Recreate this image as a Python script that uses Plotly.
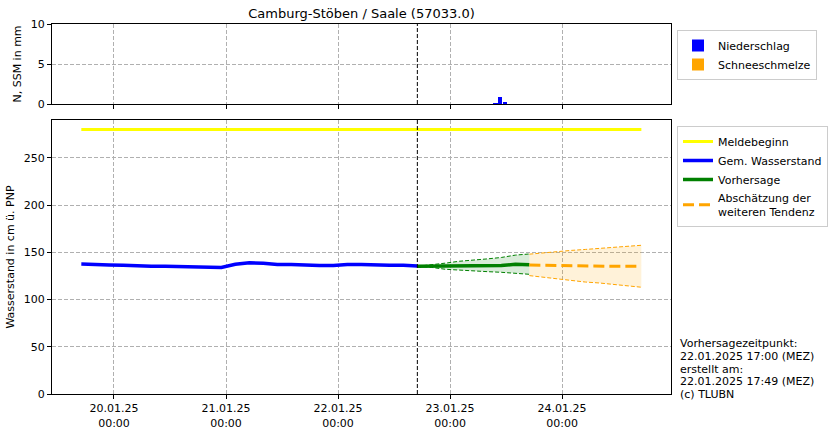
import plotly.graph_objects as go
import pandas as pd

title = "Camburg-Stöben / Saale (57033.0)"

# Observed water level (3-hourly), 19.01.2025 17:00 - 22.01.2025 17:00
obs_start = "2025-01-19 17:00"
obs_values = [137.5, 137.5, 136.6, 136.2, 135.3, 135.2, 135.2, 135.0, 134.3,
              135.0, 134.0, 137.3, 139.0, 138.3, 137.0, 137.0, 136.0, 135.9,
              135.9, 137.0, 137.0, 136.2, 136.2, 136.2, 135.5]

# Forecast (3-hourly), 22.01.2025 17:00 - 23.01.2025 17:00
fc_start = "2025-01-22 17:00"
fc_values = [135.2, 135.2, 135.4, 135.8, 136.0, 136.0, 136.0, 137.3, 136.8]
fc_upper = [135.2, 136.5, 138.5, 140.5, 141.5, 143.0, 144.5, 147.0, 148.2]
fc_lower = [135.2, 134.0, 132.0, 131.0, 130.2, 129.5, 128.8, 128.0, 126.7]

# Further tendency (3-hourly), 23.01.2025 17:00 - 24.01.2025 17:00
td_start = "2025-01-23 17:00"
td_values = [136.5, 136.2, 136.2, 135.8, 135.2, 135.2, 135.2, 135.2, 135.2]
td_upper = [148.0, 149.5, 151.0, 152.0, 153.0, 154.0, 155.0, 156.2, 157.4]
td_lower = [125.3, 123.5, 121.5, 120.0, 118.5, 117.5, 116.0, 114.5, 113.0]

# Meldebeginn level
melde_level = 280
melde_times = ["2025-01-19 17:00", "2025-01-24 17:00"]

# Precipitation (hourly, mm)
precip_times = ["2025-01-23 10:00", "2025-01-23 11:00", "2025-01-23 12:00"]
precip_values = [0.1, 0.9, 0.25]
snow_times = ["2025-01-23 11:00"]
snow_values = [0.0]

forecast_time = "2025-01-22 17:00"

tick_vals = ["2025-01-20", "2025-01-21", "2025-01-22", "2025-01-23", "2025-01-24"]
tick_text = ["20.01.25<br>00:00", "21.01.25<br>00:00", "22.01.25<br>00:00",
             "23.01.25<br>00:00", "24.01.25<br>00:00"]

info_lines = ["Vorhersagezeitpunkt:", "22.01.2025 17:00 (MEZ)", "erstellt am:",
              "22.01.2025 17:49 (MEZ)", "(c) TLUBN"]

x_range = ["2025-01-19 10:43", "2025-01-24 23:21"]

obs_t = pd.date_range(obs_start, periods=len(obs_values), freq="3h")
fc_t = pd.date_range(fc_start, periods=len(fc_values), freq="3h")
td_t = pd.date_range(td_start, periods=len(td_values), freq="3h")

BLUE = "#0000ff"
ORANGE = "#ffa500"
GREEN = "#008000"
YELLOW = "#ffff00"
FONT = "DejaVu Sans"

fig = go.Figure()

# top panel bars
fig.add_trace(go.Bar(x=pd.to_datetime(precip_times), y=precip_values, name="Niederschlag",
                     marker=dict(color=BLUE, line=dict(width=0)), width=3600000 * 0.95,
                     xaxis="x", yaxis="y", legend="legend"))
fig.add_trace(go.Bar(x=pd.to_datetime(snow_times), y=snow_values, name="Schneeschmelze",
                     marker=dict(color=ORANGE, line=dict(width=0)), width=3600000 * 0.95,
                     xaxis="x", yaxis="y", legend="legend"))

# bands
fig.add_trace(go.Scatter(x=fc_t, y=fc_upper, mode="lines",
                         line=dict(color=GREEN, width=1, dash="4px,2px"),
                         showlegend=False, xaxis="x2", yaxis="y2", hoverinfo="skip"))
fig.add_trace(go.Scatter(x=fc_t, y=fc_lower, mode="lines",
                         line=dict(color=GREEN, width=1, dash="4px,2px"),
                         fill="tonexty", fillcolor="rgba(0,128,0,0.15)",
                         showlegend=False, xaxis="x2", yaxis="y2", hoverinfo="skip"))
fig.add_trace(go.Scatter(x=td_t, y=td_upper, mode="lines",
                         line=dict(color=ORANGE, width=1, dash="4px,2px"),
                         showlegend=False, xaxis="x2", yaxis="y2", hoverinfo="skip"))
fig.add_trace(go.Scatter(x=td_t, y=td_lower, mode="lines",
                         line=dict(color=ORANGE, width=1, dash="4px,2px"),
                         fill="tonexty", fillcolor="rgba(255,165,0,0.15)",
                         showlegend=False, xaxis="x2", yaxis="y2", hoverinfo="skip"))

# lines
fig.add_trace(go.Scatter(x=pd.to_datetime(melde_times), y=[melde_level] * len(melde_times),
                         mode="lines", name="Meldebeginn",
                         line=dict(color=YELLOW, width=3), xaxis="x2", yaxis="y2", legend="legend2"))
fig.add_trace(go.Scatter(x=obs_t, y=obs_values, mode="lines", name="Gem. Wasserstand",
                         line=dict(color=BLUE, width=3.5), xaxis="x2", yaxis="y2", legend="legend2"))
fig.add_trace(go.Scatter(x=fc_t, y=fc_values, mode="lines", name="Vorhersage",
                         line=dict(color=GREEN, width=3.5), xaxis="x2", yaxis="y2", legend="legend2"))
fig.add_trace(go.Scatter(x=td_t, y=td_values, mode="lines",
                         name="Abschätzung der<br>weiteren Tendenz",
                         line=dict(color=ORANGE, width=3, dash="11px,5px"),
                         xaxis="x2", yaxis="y2", legend="legend2"))

W, H = 829, 431
top_px, bot_px = 24, 394
ph = bot_px - top_px

def py(y):
    return (bot_px - y) / ph

grid = dict(showgrid=True, gridcolor="#b0b0b0", griddash="4px,2px", gridwidth=0.8)
axis_common = dict(showline=True, linecolor="black", linewidth=1, mirror=True,
                   ticks="outside", ticklen=4, tickcolor="black", automargin=False,
                   tickfont=dict(family=FONT, size=11, color="black"), zeroline=False)

legend_common = dict(xref="container", yref="container", xanchor="left", yanchor="top",
                     bordercolor="#cccccc", borderwidth=1, bgcolor="white",
                     font=dict(family=FONT, size=11), tracegroupgap=0, traceorder="normal")

fig.update_layout(
    width=W, height=H,
    margin=dict(l=52, r=158, t=top_px, b=H - bot_px),
    paper_bgcolor="white", plot_bgcolor="white",
    font=dict(family=FONT, size=11, color="black"),
    bargap=0,
    title=dict(text=title, x=0.5, xref="paper", y=1 - 13 / H, yref="container",
               xanchor="center", yanchor="middle", automargin=False,
               font=dict(family=FONT, size=13, color="black")),
    xaxis=dict(domain=[0, 1], anchor="y", range=x_range, tickvals=tick_vals,
               showticklabels=False, **grid, **axis_common),
    yaxis=dict(domain=[py(104), 1], anchor="x", range=[0, 10], tickvals=[0, 5, 10],
               title=dict(text="N, SSM in mm", font=dict(family=FONT, size=11), standoff=6),
               **grid, **axis_common),
    xaxis2=dict(domain=[0, 1], anchor="y2", range=x_range, matches="x",
                tickvals=tick_vals, ticktext=tick_text, **grid, **axis_common),
    yaxis2=dict(domain=[0, py(120)], anchor="x2", range=[0, 290],
                tickvals=[0, 50, 100, 150, 200, 250],
                title=dict(text="Wasserstand in cm ü. PNP", font=dict(family=FONT, size=11), standoff=6),
                **grid, **axis_common),
    legend=dict(x=677 / W, y=1 - 30 / H, **legend_common),
    legend2=dict(x=677 / W, y=1 - 126 / H, **legend_common),
    showlegend=True,
)

# forecast time lines
for xr, yr in [("x", "y domain"), ("x2", "y2 domain")]:
    fig.add_shape(type="line", xref=xr, yref=yr,
                  x0=forecast_time, x1=forecast_time, y0=0, y1=1,
                  line=dict(color="black", width=1, dash="4px,2px"))

# info text
line_y = [343.5, 356.2, 369, 381.8, 394.5]
for txt, yy in zip(info_lines, line_y):
    fig.add_annotation(text=txt, x=(679 - 52) / 619, xref="paper", y=py(yy), yref="paper",
                       xanchor="left", yanchor="middle", showarrow=False, borderpad=0,
                       font=dict(family=FONT, size=11, color="black"))

fig.write_html("out.html")
